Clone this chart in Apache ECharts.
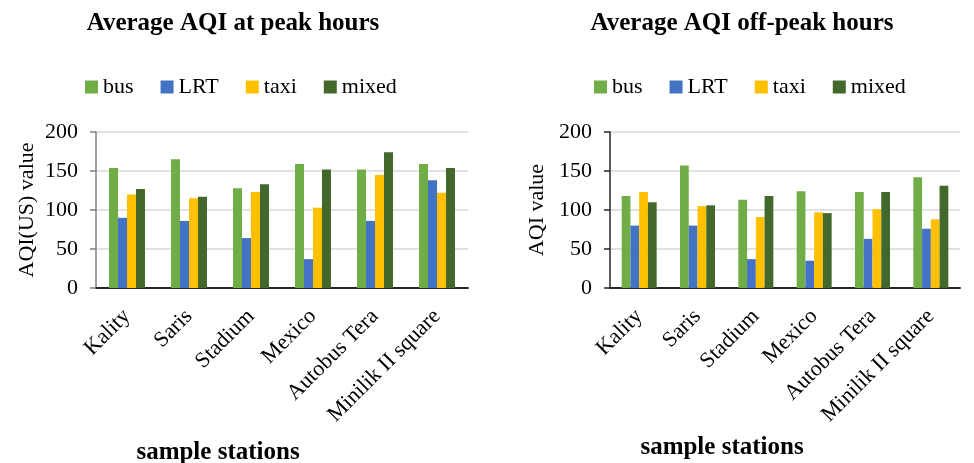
<!DOCTYPE html>
<html>
<head>
<meta charset="utf-8">
<script src="https://cdn.jsdelivr.net/npm/echarts@6/dist/echarts.min.js"></script>
<style>html,body{margin:0;padding:0;background:#fff}#c{width:974px;height:463px}</style>
</head>
<body>
<div id="c"></div>
<script>
const stations = ['Kality', 'Saris', 'Stadium', 'Mexico', 'Autobus Tera', 'Minilik II square'];
const seriesNames = ['bus', 'LRT', 'taxi', 'mixed'];
const yTicks = [0, 50, 100, 150, 200];

const peakBus = [154, 165, 128, 159, 152, 159];
const peakLRT = [90, 86, 64, 37, 86, 138];
const peakTaxi = [120, 115, 123, 103, 145, 122];
const peakMixed = [127, 117, 133, 152, 174, 154];

const offBus = [118, 157, 113, 124, 123, 142];
const offLRT = [80, 80, 37, 35, 63, 76];
const offTaxi = [123, 105, 91, 97, 101, 88];
const offMixed = [110, 106, 118, 96, 123, 131];

const colors = ['#70AD47', '#4472C4', '#FFC000', '#43682B'];
const FF = '"Liberation Serif", "Times New Roman", serif';

const peakData = [peakBus, peakLRT, peakTaxi, peakMixed];
const offData = [offBus, offLRT, offTaxi, offMixed];

function xAx(gi) {
  return {
    type: 'category', gridIndex: gi, data: stations,
    axisLine: { lineStyle: { color: '#262626', width: 2 } },
    axisTick: { show: false },
    axisLabel: { rotate: 45, fontSize: 22, fontFamily: FF, color: '#000', margin: 25, interval: 0 }
  };
}
function yAx(gi, name, gap, lineColor) {
  return {
    type: 'value', gridIndex: gi, min: yTicks[0], max: yTicks[yTicks.length - 1], interval: 50,
    name: name, nameLocation: 'middle', nameGap: gap,
    nameTextStyle: { fontSize: 22, fontFamily: FF, color: '#000' },
    axisLine: { show: true, lineStyle: { color: lineColor, width: 1.5 } },
    axisTick: { show: true, length: 6, lineStyle: { color: lineColor, width: 1.5 } },
    axisLabel: { fontSize: 22, fontFamily: FF, color: '#000', margin: 18 },
    splitLine: { lineStyle: { color: '#d9d9d9', width: 1.5 } }
  };
}

const series = [];
seriesNames.forEach((n, i) => {
  series.push({ name: n, type: 'bar', xAxisIndex: 0, yAxisIndex: 0, data: peakData[i],
    itemStyle: { color: colors[i] }, barGap: '0%', barCategoryGap: '42%' });
});
seriesNames.forEach((n, i) => {
  series.push({ name: n, type: 'bar', xAxisIndex: 1, yAxisIndex: 1, data: offData[i],
    itemStyle: { color: colors[i] }, barGap: '0%', barCategoryGap: '40%' });
});

function legend(left) {
  return {
    data: seriesNames, left: left, top: 71, itemWidth: 13, itemHeight: 13, itemGap: 27,
    icon: 'rect', textStyle: { fontSize: 22, fontFamily: FF, color: '#000' }
  };
}
function txt(x, y, s) {
  return { type: 'text', x: x, y: y,
    style: { text: s, fontSize: 25, fontWeight: 'bold', fontFamily: FF, fill: '#000',
      textAlign: 'center', textVerticalAlign: 'middle' } };
}

const chart = echarts.init(document.getElementById('c'));
chart.setOption({
  animation: false,
  color: colors,
  grid: [
    { left: 96, top: 132, width: 372, height: 156 },
    { left: 610, top: 132, width: 350, height: 156 }
  ],
  legend: [legend(80), legend(589)],
  xAxis: [xAx(0), xAx(1)],
  yAxis: [yAx(0, 'AQI(US) value', 58, '#7f7f7f'), yAx(1, 'AQI value', 62, '#262626')],
  series: series,
  graphic: [
    txt(233, 24, 'Average AQI at peak hours'),
    txt(742, 24, 'Average AQI off-peak hours'),
    txt(218, 453, 'sample stations'),
    txt(722, 448, 'sample stations')
  ]
});
</script>
</body>
</html>
